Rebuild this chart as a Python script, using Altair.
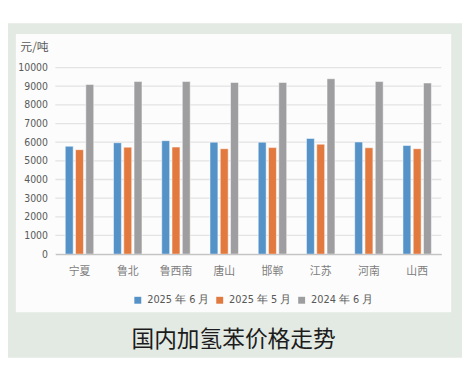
import altair as alt
import pandas as pd

regions = ["宁夏", "鲁北", "鲁西南", "唐山", "邯郸", "江苏", "河南", "山西"]
series = ["2025 年 6 月", "2025 年 5 月", "2024 年 6 月"]
jun2025 = [5780, 5970, 6080, 6000, 6000, 6200, 6010, 5820]
may2025 = [5600, 5730, 5740, 5650, 5710, 5890, 5700, 5650]
jun2024 = [9090, 9250, 9250, 9200, 9200, 9400, 9250, 9170]
y_ticks = [0, 1000, 2000, 3000, 4000, 5000, 6000, 7000, 8000, 9000, 10000]
colors = ["#5592c8", "#e2793f", "#9e9ea0"]
chart_title = "国内加氢苯价格走势"
unit_label = "元/吨"

rows = []
for s, vals in zip(series, [jun2025, may2025, jun2024]):
    for r, v in zip(regions, vals):
        rows.append({"region": r, "series": s, "value": v})
df = pd.DataFrame(rows)

W, H = 391, 189
NUM_FONT = "'DejaVu Sans Condensed', 'Liberation Sans Narrow', Roboto, sans-serif"
CJK_FONT = "Noto Sans CJK SC"

one = pd.DataFrame({"k": [0]})

y_axis = alt.Axis(
    values=y_ticks, format="d", labelOverlap=False, grid=False,
    ticks=False, domain=False,
    labelFont=NUM_FONT, labelFontSize=10.5, labelColor="#595959",
    labelPadding=8, zindex=2,
    title=unit_label, titleAngle=0, titleX=-36, titleY=-21,
    titleAlign="left", titleBaseline="middle", titleFont=CJK_FONT,
    titleFontSize=12, titleFontWeight="normal", titleColor="#595959",
)
y_scale = alt.Scale(domain=[0, 10000])

frame = alt.Chart(one).mark_rect(color="#e3eae3").encode(
    x=alt.value(-51), x2=alt.value(412), y=alt.value(-45), y2=alt.value(294)
)
panel = alt.Chart(one).mark_rect(color="#fcfcfc").encode(
    x=alt.value(-40), x2=alt.value(401), y=alt.value(-34), y2=alt.value(248)
)

grid = alt.Chart(pd.DataFrame({"value": y_ticks})).mark_rule(
    color="#e3e3e3", strokeWidth=1.3
).encode(
    y=alt.Y("value:Q", axis=y_axis, scale=y_scale)
)

bars = alt.Chart(df).mark_bar(stroke="#ffffff", strokeWidth=0.5).encode(
    x=alt.X(
        "region:N",
        sort=regions,
        scale=alt.Scale(paddingInner=0.41, paddingOuter=0.205),
        axis=alt.Axis(
            title=None, labelAngle=0, ticks=False, domainColor="#c4c4c4",
            domainWidth=1.3, labelPadding=12, labelFont=CJK_FONT,
            labelFontSize=11, labelColor="#7d7d7d", zindex=2,
        ),
    ),
    xOffset=alt.XOffset(
        "series:N", sort=series, scale=alt.Scale(paddingInner=0.23, paddingOuter=0)
    ),
    y=alt.Y("value:Q", scale=y_scale, axis=y_axis),
    color=alt.Color(
        "series:N",
        sort=series,
        scale=alt.Scale(domain=series, range=colors),
        legend=alt.Legend(
            orient="none", legendX=78, legendY=230, direction="horizontal",
            title=None, symbolType="square", symbolSize=49, symbolStrokeWidth=0,
            labelFont=NUM_FONT, labelFontSize=11, labelColor="#595959",
            labelOffset=4, columnPadding=5, zindex=2,
        ),
    ),
)

title_text = alt.Chart(one).mark_text(
    text=chart_title, font=CJK_FONT, fontSize=23, color="#1c1c1c",
    align="center", baseline="middle",
).encode(x=alt.value(180.5), y=alt.value(276.5))

chart = alt.layer(frame, panel, grid, bars, title_text).properties(
    width=W, height=H,
    padding={"left": 48, "top": 58, "right": 24, "bottom": 110},
    autosize="none",
).configure_view(stroke=None).configure(background="white")

chart.save("out.html", embed_options={"renderer": "svg", "actions": False})
